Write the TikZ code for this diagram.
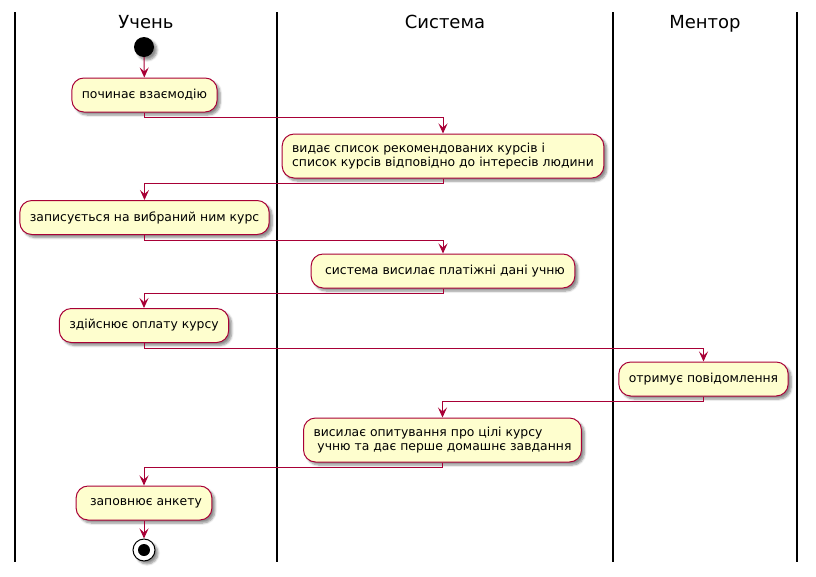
\documentclass[tikz,border=0pt]{standalone}
\usepackage{fontspec}
\setmainfont{DejaVu Sans}
\usetikzlibrary{arrows.meta,shadows.blur}
\definecolor{umlred}{HTML}{A80036}
\definecolor{umlfill}{HTML}{FEFECE}

\begin{document}
\begin{tikzpicture}[x=1pt,y=-1pt,
  shade/.style={blur shadow={shadow xshift=3pt,shadow yshift=-3pt,shadow blur steps=6,shadow opacity=45}},
  act/.style={draw=umlred,fill=umlfill,rounded corners=12pt,line width=1pt,
    align=left,inner xsep=10pt,inner ysep=9pt,minimum height=34pt,
    font=\fontsize{12.4}{14}\selectfont,shade},
  flow/.style={draw=umlred,line width=1pt,-{Stealth[length=10pt,width=9pt,inset=4pt]}},
  lane/.style={line width=1.4pt},
  lanetitle/.style={anchor=base,font=\fontsize{18}{20}\selectfont}]
  \useasboundingbox (0,0) rectangle (816,576);
  %
  \foreach \x in {15,277,613,797}{
    \draw[lane] (\x,12) -- (\x,562);
  }
  \node[lanetitle] (tuchen) at (146,28) {Учень};
  \node[lanetitle] (tsystema) at (445,28) {Система};
  \node[lanetitle] (tmentor) at (705,28) {Ментор};
  %
  \node[circle,fill=black,minimum size=20pt,inner sep=0pt,shade] (start) at (144,47) {};
  \node[act] (b1) at (144.5,95) {починає взаємодію};
  \node[act] (b2) at (443,156) {видає список рекомендованих курсів і\\список курсів відповідно до інтересів людини};
  \node[act] (b3) at (144.5,217.5) {записується на вибраний ним курс};
  \node[act] (b4) at (443,271) {\ система висилає платіжні дані учню};
  \node[act] (b5) at (144,325.5) {здійснює оплату курсу};
  \node[act] (b6) at (703.5,379) {отримує повідомлення};
  \node[act] (b7) at (442.5,440) {висилає опитування про цілі курсу\\\ учню та дає перше домашнє завдання};
  \node[act] (b8) at (144,503) {\ заповнює анкету};
  \node[circle,draw,fill=white,line width=1pt,minimum size=22pt,inner sep=0pt,shade] (stop) at (144,550) {};
  \fill (stop) circle (6pt);
  %
  \draw[flow] (start) -- (b1);
  \foreach \a/\b in {b1/b2,b2/b3,b3/b4,b4/b5,b5/b6,b6/b7,b7/b8}{
    \draw[flow] (\a.south) -- ++(0,5) -| (\b.north);
  }
  \draw[flow] (b8) -- (stop);
\end{tikzpicture}
\end{document}
